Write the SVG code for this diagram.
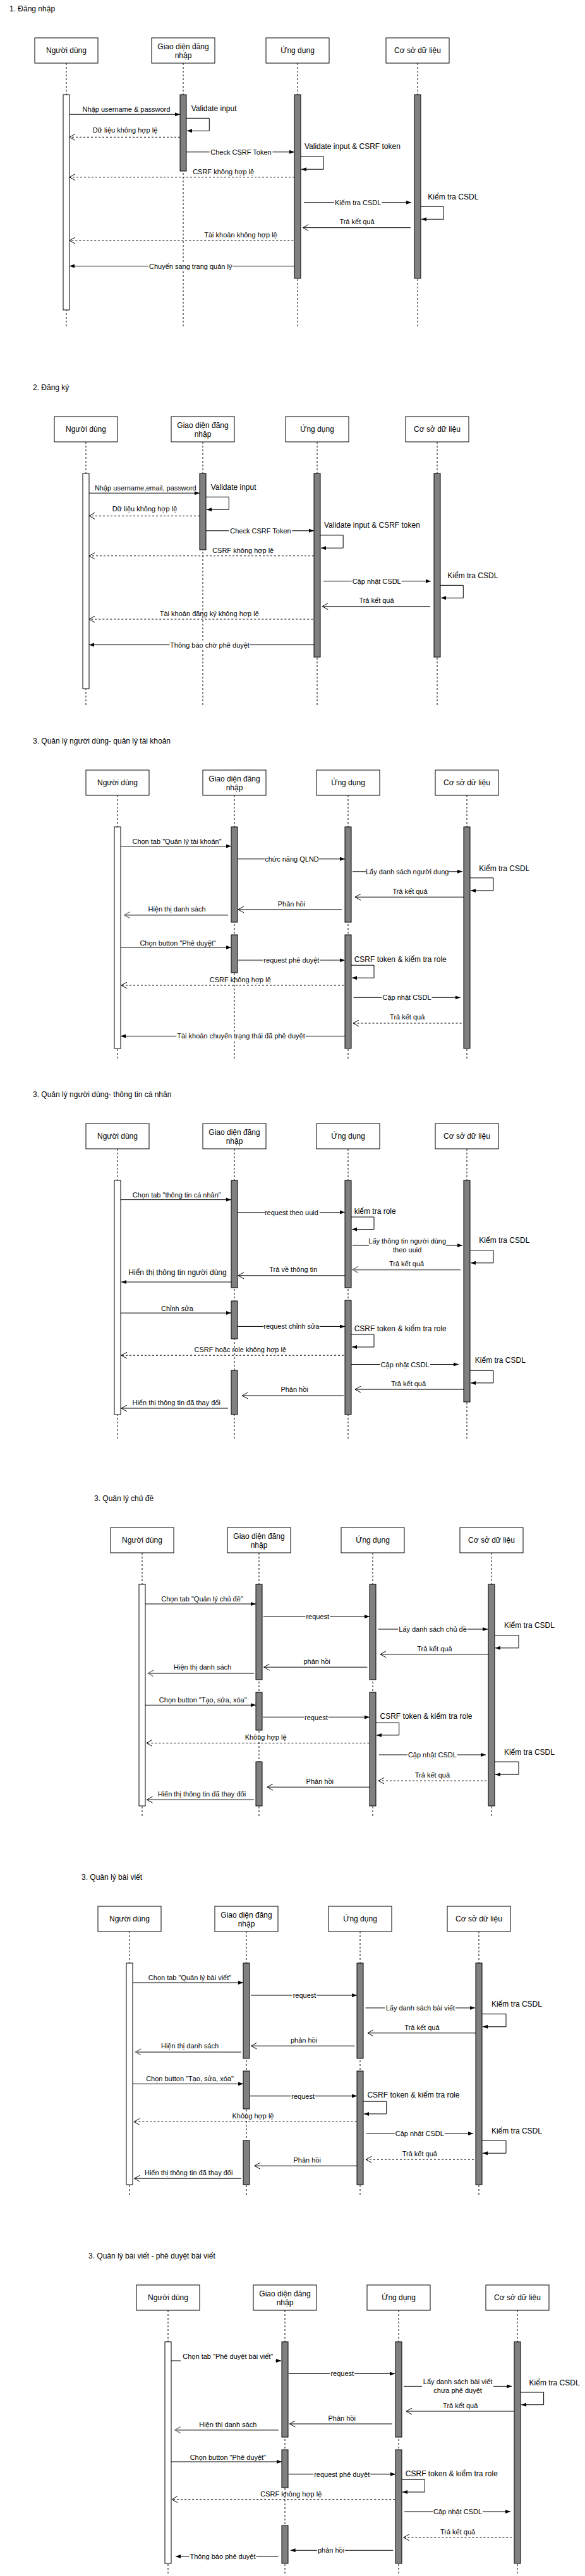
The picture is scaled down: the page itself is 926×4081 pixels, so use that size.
<svg xmlns="http://www.w3.org/2000/svg" width="926" height="4081" viewBox="0 0 926 4081">
<style>
.b{fill:#fff;stroke:#000;stroke-width:1}
.ll{stroke:#000;stroke-width:1;stroke-dasharray:3 3;fill:none}
.aw{fill:#fff;stroke:#000;stroke-width:1}
.ag{fill:#808080;stroke:#000;stroke-width:1}
.m{fill:none;stroke:#000;stroke-width:1;marker-end:url(#fa)}
.r{fill:none;stroke:#000;stroke-width:1;marker-end:url(#oa)}
.rd{fill:none;stroke:#000;stroke-width:1;stroke-dasharray:3 3;marker-end:url(#oa)}
.g{fill:none;stroke:#808080;stroke-width:2;marker-end:url(#og)}
.gf{fill:none;stroke:#808080;stroke-width:2;marker-end:url(#fa)}
.bg{fill:#fff}
text{font-family:"Liberation Sans",Arial,Helvetica,sans-serif;font-size:11px;fill:#000}
.t12{font-size:12px}
.c{text-anchor:middle}
</style>
<defs>
<marker id="fa" viewBox="0 0 8 8" refX="8" refY="4" markerWidth="8" markerHeight="8" markerUnits="userSpaceOnUse" orient="auto"><path d="M0,1 L8,4 L0,7 Z" fill="#000"/></marker>
<marker id="oa" viewBox="0 0 11 11" refX="10" refY="5.5" markerWidth="11" markerHeight="11" markerUnits="userSpaceOnUse" orient="auto"><path d="M1,0.5 L10,5.5 L1,10.5" fill="none" stroke="#000" stroke-width="1"/></marker>
<marker id="og" viewBox="0 0 11 11" refX="10" refY="5.5" markerWidth="11" markerHeight="11" markerUnits="userSpaceOnUse" orient="auto"><path d="M1,0.5 L10,5.5 L1,10.5" fill="none" stroke="#808080" stroke-width="1.5"/></marker>
</defs>
<rect x="0" y="0" width="926" height="4081" fill="#fff"/>

<!-- Diagram 1 -->
<g id="diagram1" transform="translate(105,60)">
<text class="t12" x="-90" y="-42">1. Đăng nhập</text>
<g id="d1-user"><rect class="b" x="-50" y="0" width="100" height="40"/><text class="t12 c" x="0" y="24">Người dùng</text><line class="ll" x1="0" y1="40" x2="0" y2="458"/><rect class="aw" x="-5" y="90" width="10" height="341"/></g>
<g id="d1-ui"><rect class="b" x="135" y="0" width="100" height="40"/><text class="t12 c" x="185" y="17.5">Giao diện đăng</text><text class="t12 c" x="185" y="31.5">nhập</text><line class="ll" x1="185" y1="40" x2="185" y2="458"/><rect class="ag" x="180" y="90" width="10" height="121"/></g>
<g id="d1-app"><rect class="b" x="316" y="0" width="100" height="40"/><text class="t12 c" x="366" y="24">Ứng dụng</text><line class="ll" x1="366" y1="40" x2="366" y2="458"/><rect class="ag" x="361" y="90" width="10" height="291"/></g>
<g id="d1-db"><rect class="b" x="506" y="0" width="100" height="40"/><text class="t12 c" x="556" y="24">Cơ sở dữ liệu</text><line class="ll" x1="556" y1="40" x2="556" y2="458"/><rect class="ag" x="551" y="90" width="10" height="291"/></g>
<g id="d1-connectors">
<path class="m" d="M5,121.2H180"/><text class="c" x="95" y="117">Nhập username &amp; password</text>
<path class="m" d="M190,127.3H226.3V147.3H191"/><text class="t12" x="197.7" y="115.5">Validate input</text>
<path class="rd" d="M180,157.3H5"/><text class="c" x="93" y="149.5">Dữ liệu không hợp lệ</text>
<path class="m" d="M190,180.8H361"/><rect class="bg" x="226.6" y="173.8" width="99.8" height="14"/><text class="c" x="276.5" y="184.8">Check CSRF Token</text>
<path class="m" d="M371,187.9H407.2V208.2H372"/><text class="t12" x="377" y="175.5">Validate input &amp; CSRF token</text>
<path class="rd" d="M361,220.7H5"/><text class="c" x="248.7" y="215.6">CSRF không hợp lệ</text>
<path class="m" d="M376,260.7H546"/><rect class="bg" x="424" y="253.7" width="75.3" height="14"/><text class="c" x="461.7" y="264.7">Kiểm tra CSDL</text>
<path class="m" d="M561,267.3H597.3V287.3H562"/><text class="t12" x="572.3" y="255.5">Kiểm tra CSDL</text>
<path class="r" d="M545,300.7H374.3"/><text class="c" x="460" y="295">Trả kết quả</text>
<path class="rd" d="M359.3,321H5"/><text class="c" x="276" y="316">Tài khoản không hợp lệ</text>
<path class="m" d="M361,361.6H5"/><rect class="bg" x="130" y="354.6" width="133.5" height="14"/><text class="c" x="196.7" y="365.6">Chuyển sang trang quản lý</text>
</g>
</g>

<!-- Diagram 2 -->
<g id="diagram2" transform="translate(136,660)">
<text class="t12" x="-84" y="-42">2. Đăng ký</text>
<g id="d2-user"><rect class="b" x="-50" y="0" width="100" height="40"/><text class="t12 c" x="0" y="24">Người dùng</text><line class="ll" x1="0" y1="40" x2="0" y2="458"/><rect class="aw" x="-5" y="90" width="10" height="341"/></g>
<g id="d2-ui"><rect class="b" x="135" y="0" width="100" height="40"/><text class="t12 c" x="185" y="17.5">Giao diện đăng</text><text class="t12 c" x="185" y="31.5">nhập</text><line class="ll" x1="185" y1="40" x2="185" y2="458"/><rect class="ag" x="180" y="90" width="10" height="121"/></g>
<g id="d2-app"><rect class="b" x="316" y="0" width="100" height="40"/><text class="t12 c" x="366" y="24">Ứng dụng</text><line class="ll" x1="366" y1="40" x2="366" y2="458"/><rect class="ag" x="361" y="90" width="10" height="291"/></g>
<g id="d2-db"><rect class="b" x="506" y="0" width="100" height="40"/><text class="t12 c" x="556" y="24">Cơ sở dữ liệu</text><line class="ll" x1="556" y1="40" x2="556" y2="458"/><rect class="ag" x="551" y="90" width="10" height="291"/></g>
<g id="d2-connectors">
<path class="m" d="M5,121.2H180"/><text class="c" x="94.3" y="117">Nhập username,email, password</text>
<path class="m" d="M190,127.3H226.3V147.3H191"/><text class="t12" x="197.7" y="115.5">Validate input</text>
<path class="rd" d="M180,157.3H5"/><text class="c" x="93" y="149.5">Dữ liệu không hợp lệ</text>
<path class="m" d="M190,180.8H361"/><rect class="bg" x="226.6" y="173.8" width="99.8" height="14"/><text class="c" x="276.5" y="184.8">Check CSRF Token</text>
<path class="m" d="M371,187.9H407.2V208.2H372"/><text class="t12" x="377" y="175.5">Validate input &amp; CSRF token</text>
<path class="rd" d="M361,220.7H5"/><text class="c" x="248.7" y="215.6">CSRF không hợp lệ</text>
<path class="m" d="M376,260.7H546"/><rect class="bg" x="420.7" y="253.7" width="79" height="14"/><text class="c" x="460.2" y="264.7">Cập nhật CSDL</text>
<path class="m" d="M561,267.3H597.3V287.3H562"/><text class="t12" x="572.3" y="255.5">Kiểm tra CSDL</text>
<path class="r" d="M545,300.7H374.3"/><text class="c" x="460" y="295">Trả kết quả</text>
<path class="rd" d="M359.3,321H5"/><text class="c" x="195.3" y="316">Tài khoản đăng ký không hợp lệ</text>
<path class="m" d="M361,361.6H5"/><rect class="bg" x="132.6" y="354.6" width="126.8" height="14"/><text class="c" x="196" y="365.6">Thông báo chờ phê duyệt</text>
</g>
</g>

<!-- Diagram 3 -->
<g id="diagram3" transform="translate(186,1220)">
<text class="t12" x="-134" y="-42">3. Quản lý người dùng- quản lý tài khoản</text>
<g id="d3-user"><rect class="b" x="-50" y="0" width="100" height="40"/><text class="t12 c" x="0" y="24">Người dùng</text><line class="ll" x1="0" y1="40" x2="0" y2="458"/><rect class="aw" x="-5" y="90" width="10" height="351"/></g>
<g id="d3-ui"><rect class="b" x="135" y="0" width="100" height="40"/><text class="t12 c" x="185" y="17.5">Giao diện đăng</text><text class="t12 c" x="185" y="31.5">nhập</text><line class="ll" x1="185" y1="40" x2="185" y2="458"/><rect class="ag" x="180" y="90" width="10" height="151"/><rect class="ag" x="180" y="261" width="10" height="60"/></g>
<g id="d3-app"><rect class="b" x="315" y="0" width="100" height="40"/><text class="t12 c" x="365" y="24">Ứng dụng</text><line class="ll" x1="365" y1="40" x2="365" y2="458"/><rect class="ag" x="360" y="90" width="10" height="151"/><rect class="ag" x="360" y="261" width="10" height="180"/></g>
<g id="d3-db"><rect class="b" x="503" y="0" width="100" height="40"/><text class="t12 c" x="553" y="24">Cơ sở dữ liệu</text><line class="ll" x1="553" y1="40" x2="553" y2="458"/><rect class="ag" x="548" y="90" width="10" height="351"/></g>
<g id="d3-connectors">
<path class="m" d="M5,120.5H180"/><text class="c" x="94" y="117">Chọn tab "Quản lý tài khoản"</text>
<path class="m" d="M190,140.8H360"/><rect class="bg" x="232.8" y="133.8" width="86.4" height="14"/><text class="c" x="276" y="144.8">chức năng QLND</text>
<path class="m" d="M372,160.8H546"/><rect class="bg" x="393.2" y="153.8" width="131" height="14"/><text class="c" x="458.7" y="164.8">Lấy danh sách người dung</text>
<path class="m" d="M558,170.8H595V190.9H559"/><text class="t12" x="572.3" y="159.5">Kiểm tra CSDL</text>
<path class="r" d="M548,201.2H376"/><text class="c" x="463" y="195.6">Trả kết quả</text>
<path class="r" d="M355,220.9H191"/><text class="c" x="275.4" y="215.6">Phản hồi</text>
<path class="g" d="M175,229.7H10.7"/><text class="c" x="94" y="224.3">Hiện thị danh sách</text>
<path class="m" d="M5,280.9H180"/><text class="c" x="95.6" y="277.7">Chọn button "Phê duyệt"</text>
<path class="gf" d="M190,301.3H360"/><rect class="bg" x="230.4" y="294.3" width="90" height="14"/><text class="c" x="275.4" y="305.3">request phê duyệt</text>
<path class="m" d="M370,309.2H406V329.2H371"/><text class="t12" x="374.7" y="303.8">CSRF token &amp; kiểm tra role</text>
<path class="rd" d="M358,341H6"/><text class="c" x="194.3" y="335.6">CSRF không hợp lệ</text>
<path class="m" d="M373.6,360.3H542.7"/><rect class="bg" x="418.5" y="353.3" width="79" height="14"/><text class="c" x="458" y="364.3">Cập nhật CSDL</text>
<path class="rd" d="M544.5,401H373"/><text class="c" x="458.7" y="395.3">Trả kết quả</text>
<path class="m" d="M360,421.4H5"/><rect class="bg" x="93.3" y="414.4" width="204.4" height="14"/><text class="c" x="195.5" y="425.4">Tài khoản chuyển trạng thái đã phê duyệt</text>
</g>
</g>

<!-- Diagram 4 -->
<g id="diagram4" transform="translate(186,1780)">
<text class="t12" x="-134" y="-42">3. Quản lý người dùng- thông tin cá nhân</text>
<g id="d4-user"><rect class="b" x="-50" y="0" width="100" height="40"/><text class="t12 c" x="0" y="24">Người dùng</text><line class="ll" x1="0" y1="40" x2="0" y2="500"/><rect class="aw" x="-5" y="90" width="10" height="371"/></g>
<g id="d4-ui"><rect class="b" x="135" y="0" width="100" height="40"/><text class="t12 c" x="185" y="17.5">Giao diện đăng</text><text class="t12 c" x="185" y="31.5">nhập</text><line class="ll" x1="185" y1="40" x2="185" y2="500"/><rect class="ag" x="180" y="90" width="10" height="170"/><rect class="ag" x="180" y="281" width="10" height="60"/><rect class="ag" x="180" y="391" width="10" height="70"/></g>
<g id="d4-app"><rect class="b" x="315" y="0" width="100" height="40"/><text class="t12 c" x="365" y="24">Ứng dụng</text><line class="ll" x1="365" y1="40" x2="365" y2="500"/><rect class="ag" x="360" y="90" width="10" height="170"/><rect class="ag" x="360" y="280" width="10" height="181"/></g>
<g id="d4-db"><rect class="b" x="503" y="0" width="100" height="40"/><text class="t12 c" x="553" y="24">Cơ sở dữ liệu</text><line class="ll" x1="553" y1="40" x2="553" y2="500"/><rect class="ag" x="548" y="90" width="10" height="351"/></g>
<g id="d4-connectors">
<path class="m" d="M5,120.6H180"/><text class="c" x="93.8" y="117">Chọn tab "thông tin cá nhân"</text>
<path class="m" d="M190,140.6H360"/><rect class="bg" x="232.9" y="133.6" width="87" height="14"/><text class="c" x="275.4" y="144.6">request theo uuid</text>
<path class="m" d="M370,148H406V167.6H371"/><text class="t12" x="374.7" y="143">kiểm tra role</text>
<path class="m" d="M372,193H546"/><rect class="bg" x="397.7" y="180.5" width="122" height="26"/><text class="c" x="458.7" y="190.4">Lấy thông tin người dùng</text><text class="c" x="458.7" y="203.5">theo uuid</text>
<path class="m" d="M558,200.7H595V220.8H559"/><text class="t12" x="572.3" y="189.4">Kiểm tra CSDL</text>
<path class="g" d="M543,231.4H372"/><text class="c" x="457.6" y="226.4">Trả kết quả</text>
<path class="r" d="M360,240.8H191"/><text class="c" x="278.3" y="235.4">Trả về thông tin</text>
<path class="m" d="M180,251H6"/><text class="t12 c" x="95" y="239.5">Hiển thị thông tin người dùng</text>
<path class="m" d="M5,300.1H180"/><text class="c" x="94.4" y="296.7">Chỉnh sửa</text>
<path class="m" d="M190,321.4H360"/><rect class="bg" x="231" y="314.4" width="88.8" height="14"/><text class="c" x="275.4" y="325.4">request chỉnh sửa</text>
<path class="m" d="M370,334H406V354H371"/><text class="t12" x="374.7" y="328.8">CSRF token &amp; kiểm tra role</text>
<path class="rd" d="M358,367.2H6"/><text class="c" x="194.3" y="361.8">CSRF hoặc role không hợp lệ</text>
<path class="m" d="M370,381.5H540"/><rect class="bg" x="415.7" y="374.5" width="79" height="14"/><text class="c" x="455.2" y="385.5">Cập nhật CSDL</text>
<path class="m" d="M558,391.3H595V410.9H559"/><text class="t12" x="565.8" y="379">Kiểm tra CSDL</text>
<path class="r" d="M548,421.1H376"/><text class="c" x="460.5" y="415.7">Trả kết quả</text>
<path class="r" d="M358,431H197.3"/><text class="c" x="280.1" y="425.1">Phản hồi</text>
<path class="r" d="M175,451H6"/><text class="c" x="93.2" y="445.6">Hiển thị thông tin đã thay đổi</text>
</g>
</g>

<!-- Diagram 5 -->
<g id="diagram5" transform="translate(225,2420)">
<text class="t12" x="-76" y="-42">3. Quản lý chủ đề</text>
<g id="d5-user"><rect class="b" x="-50" y="0" width="100" height="40"/><text class="t12 c" x="0" y="24">Người dùng</text><line class="ll" x1="0" y1="40" x2="0" y2="458"/><rect class="aw" x="-5" y="90" width="10" height="351"/></g>
<g id="d5-ui"><rect class="b" x="135" y="0" width="100" height="40"/><text class="t12 c" x="185" y="17.5">Giao diện đăng</text><text class="t12 c" x="185" y="31.5">nhập</text><line class="ll" x1="185" y1="40" x2="185" y2="458"/><rect class="ag" x="180" y="90" width="10" height="151"/><rect class="ag" x="180" y="261" width="10" height="60"/><rect class="ag" x="180" y="371" width="10" height="70"/></g>
<g id="d5-app"><rect class="b" x="315" y="0" width="100" height="40"/><text class="t12 c" x="365" y="24">Ứng dụng</text><line class="ll" x1="365" y1="40" x2="365" y2="458"/><rect class="ag" x="360" y="90" width="10" height="151"/><rect class="ag" x="360" y="261" width="10" height="180"/></g>
<g id="d5-db"><rect class="b" x="503" y="0" width="100" height="40"/><text class="t12 c" x="553" y="24">Cơ sở dữ liệu</text><line class="ll" x1="553" y1="40" x2="553" y2="458"/><rect class="ag" x="548" y="90" width="10" height="351"/></g>
<g id="d5-connectors">
<path class="m" d="M5,121H180"/><text class="c" x="95" y="117">Chọn tab "Quản lý chủ đề"</text>
<path class="m" d="M192,141H360"/><rect class="bg" x="258.5" y="134" width="38.7" height="14"/><text class="c" x="277.8" y="145">request</text>
<path class="m" d="M373.6,161H547"/><rect class="bg" x="405.2" y="154" width="109.6" height="14"/><text class="c" x="460" y="165">Lấy danh sách chủ đề</text>
<path class="m" d="M558,170.7H596V190.8H559"/><text class="t12" x="572.9" y="159.2">Kiểm tra CSDL</text>
<path class="r" d="M548,200.8H377"/><text class="c" x="462.9" y="195.5">Trả kết quả</text>
<path class="r" d="M356.4,221.2H192.6"/><text class="c" x="276.6" y="215.5">phản hồi</text>
<path class="g" d="M177,230.9H9.2"/><text class="c" x="95.6" y="225">Hiện thị danh sách</text>
<path class="m" d="M5,281.3H180"/><text class="c" x="96.2" y="277.4">Chọn button "Tạo, sửa, xóa"</text>
<path class="gf" d="M190,300.6H360"/><rect class="bg" x="256" y="293.6" width="38.7" height="14"/><text class="c" x="275.4" y="304.6">request</text>
<path class="m" d="M370,309.2H406.7V328.9H371"/><text class="t12" x="376.5" y="303.4">CSRF token &amp; kiểm tra role</text>
<path class="rd" d="M359.4,341.4H6.9"/><text class="c" x="195.6" y="335.8">Không hợp lệ</text>
<path class="m" d="M374.8,360H544"/><rect class="bg" x="419.9" y="353" width="79" height="14"/><text class="c" x="459.4" y="364">Cập nhật CSDL</text>
<path class="m" d="M558,371.1H596V391.2H559"/><text class="t12" x="572.9" y="359.6">Kiểm tra CSDL</text>
<path class="rd" d="M545,401.2H374.2"/><text class="c" x="459.4" y="396.2">Trả kết quả</text>
<path class="r" d="M360.6,411.2H197.9"/><text class="c" x="281.3" y="406.3">Phản hồi</text>
<path class="r" d="M177,431.2H7.5"/><text class="c" x="94.4" y="426.3">Hiển thị thông tin đã thay đổi</text>
</g>
</g>

<!-- Diagram 6 -->
<g id="diagram6" transform="translate(205,3020)">
<text class="t12" x="-76" y="-42">3. Quản lý bài viết</text>
<g id="d6-user"><rect class="b" x="-50" y="0" width="100" height="40"/><text class="t12 c" x="0" y="24">Người dùng</text><line class="ll" x1="0" y1="40" x2="0" y2="458"/><rect class="aw" x="-5" y="90" width="10" height="351"/></g>
<g id="d6-ui"><rect class="b" x="135" y="0" width="100" height="40"/><text class="t12 c" x="185" y="17.5">Giao diện đăng</text><text class="t12 c" x="185" y="31.5">nhập</text><line class="ll" x1="185" y1="40" x2="185" y2="458"/><rect class="ag" x="180" y="90" width="10" height="151"/><rect class="ag" x="180" y="261" width="10" height="60"/><rect class="ag" x="180" y="371" width="10" height="70"/></g>
<g id="d6-app"><rect class="b" x="315" y="0" width="100" height="40"/><text class="t12 c" x="365" y="24">Ứng dụng</text><line class="ll" x1="365" y1="40" x2="365" y2="458"/><rect class="ag" x="360" y="90" width="10" height="151"/><rect class="ag" x="360" y="261" width="10" height="180"/></g>
<g id="d6-db"><rect class="b" x="503" y="0" width="100" height="40"/><text class="t12 c" x="553" y="24">Cơ sở dữ liệu</text><line class="ll" x1="553" y1="40" x2="553" y2="458"/><rect class="ag" x="548" y="90" width="10" height="351"/></g>
<g id="d6-connectors">
<path class="m" d="M5,121H180"/><text class="c" x="95.5" y="117">Chọn tab "Quản lý bài viết"</text>
<path class="m" d="M192,141H360"/><rect class="bg" x="257.6" y="134" width="38.7" height="14"/><text class="c" x="277" y="145">request</text>
<path class="m" d="M373.6,161H547"/><rect class="bg" x="404.6" y="154" width="111.5" height="14"/><text class="c" x="460.4" y="165">Lấy danh sách bài viết</text>
<path class="m" d="M558,170.7H596V190.8H559"/><text class="t12" x="572.9" y="159.2">Kiểm tra CSDL</text>
<path class="r" d="M548,200.8H377"/><text class="c" x="462.9" y="195.5">Trả kết quả</text>
<path class="r" d="M356.4,221.2H192.6"/><text class="c" x="276" y="215.5">phản hồi</text>
<path class="g" d="M177,230.9H9.2"/><text class="c" x="95.5" y="225">Hiện thị danh sách</text>
<path class="m" d="M5,281.3H180"/><text class="c" x="95.5" y="277.4">Chọn button "Tạo, sửa, xóa"</text>
<path class="gf" d="M190,300.6H360"/><rect class="bg" x="255.3" y="293.6" width="38.7" height="14"/><text class="c" x="274.7" y="304.6">request</text>
<path class="m" d="M370,309.2H406.7V328.9H371"/><text class="t12" x="376.4" y="303.4">CSRF token &amp; kiểm tra role</text>
<path class="rd" d="M359.4,341.4H6.9"/><text class="c" x="195.5" y="335.8">Không hợp lệ</text>
<path class="m" d="M374.8,360H544"/><rect class="bg" x="419.8" y="353" width="79" height="14"/><text class="c" x="459.3" y="364">Cập nhật CSDL</text>
<path class="m" d="M558,371.1H596V391.2H559"/><text class="t12" x="572.9" y="359.6">Kiểm tra CSDL</text>
<path class="rd" d="M545,401.2H374.2"/><text class="c" x="459.3" y="396.2">Trả kết quả</text>
<path class="r" d="M360.6,411.2H197.9"/><text class="c" x="281.2" y="406.3">Phản hồi</text>
<path class="r" d="M177,431.2H7.5"/><text class="c" x="93.7" y="426.3">Hiển thị thông tin đã thay đổi</text>
</g>
</g>

<!-- Diagram 7 -->
<g id="diagram7" transform="translate(266,3620)">
<text class="t12" x="-126" y="-42">3. Quản lý bài viết - phê duyệt bài viết</text>
<g id="d7-user"><rect class="b" x="-50" y="0" width="100" height="40"/><text class="t12 c" x="0" y="24">Người dùng</text><line class="ll" x1="0" y1="40" x2="0" y2="458"/><rect class="aw" x="-5" y="90" width="10" height="351"/></g>
<g id="d7-ui"><rect class="b" x="135" y="0" width="100" height="40"/><text class="t12 c" x="185" y="17.5">Giao diện đăng</text><text class="t12 c" x="185" y="31.5">nhập</text><line class="ll" x1="185" y1="40" x2="185" y2="458"/><rect class="ag" x="180" y="90" width="10" height="151"/><rect class="ag" x="180" y="261" width="10" height="60"/><rect class="ag" x="180" y="381" width="10" height="60"/></g>
<g id="d7-app"><rect class="b" x="315" y="0" width="100" height="40"/><text class="t12 c" x="365" y="24">Ứng dụng</text><line class="ll" x1="365" y1="40" x2="365" y2="458"/><rect class="ag" x="360" y="90" width="10" height="151"/><rect class="ag" x="360" y="261" width="10" height="180"/></g>
<g id="d7-db"><rect class="b" x="503" y="0" width="100" height="40"/><text class="t12 c" x="553" y="24">Cơ sở dữ liệu</text><line class="ll" x1="553" y1="40" x2="553" y2="458"/><rect class="ag" x="548" y="90" width="10" height="351"/></g>
<g id="d7-connectors">
<path class="m" d="M5,120H179"/><rect class="bg" x="20" y="104" width="150" height="18"/><text class="c" x="94.8" y="116.7">Chọn tab "Phê duyệt bài viết"</text>
<path class="m" d="M191,140.4H359"/><rect class="bg" x="256.4" y="133.4" width="38.7" height="14"/><text class="c" x="275.8" y="144.4">request</text>
<path class="m" d="M373,160.4H544.4"/><rect class="bg" x="402" y="145" width="113" height="30"/><text class="c" x="458.6" y="156.7">Lấy danh sách bài viết</text><text class="c" x="458.6" y="171">chưa phê duyệt</text>
<path class="m" d="M558,170H594.6V189.7H559"/><text class="t12" x="571.6" y="158.6">Kiểm tra CSDL</text>
<path class="r" d="M548,200H377"/><text class="c" x="462.7" y="194.7">Trả kết quả</text>
<path class="r" d="M355,220H192.4"/><text class="c" x="275.2" y="214.7">Phản hồi</text>
<path class="g" d="M174.7,229.7H10.8"/><text class="c" x="94.8" y="224.7">Hiện thị danh sách</text>
<path class="m" d="M5,280H180"/><text class="c" x="94.8" y="276.7">Chọn button "Phê duyệt"</text>
<path class="gf" d="M190,299.7H360"/><rect class="bg" x="230.2" y="292.7" width="90" height="14"/><text class="c" x="275.2" y="303.7">request phê duyệt</text>
<path class="m" d="M370,308.4H406.5V328H371"/><text class="t12" x="375.8" y="302.6">CSRF token &amp; kiểm tra role</text>
<path class="rd" d="M359.2,339.7H6"/><text class="c" x="194.8" y="334.7">CSRF không hợp lệ</text>
<path class="m" d="M374,359H542"/><rect class="bg" x="419.1" y="352" width="79" height="14"/><text class="c" x="458.6" y="363">Cập nhật CSDL</text>
<path class="rd" d="M544.4,400H372.8"/><text class="c" x="458.6" y="394.7">Trả kết quả</text>
<path class="m" d="M356.3,420.3H193.6"/><rect class="bg" x="235.9" y="413.3" width="44.2" height="14"/><text class="c" x="258" y="424.3">phản hồi</text>
<path class="m" d="M174.7,430H12"/><rect class="bg" x="33.5" y="423" width="106" height="14"/><text class="c" x="86.5" y="434">Thông báo phê duyệt</text>
</g>
</g>
</svg>
